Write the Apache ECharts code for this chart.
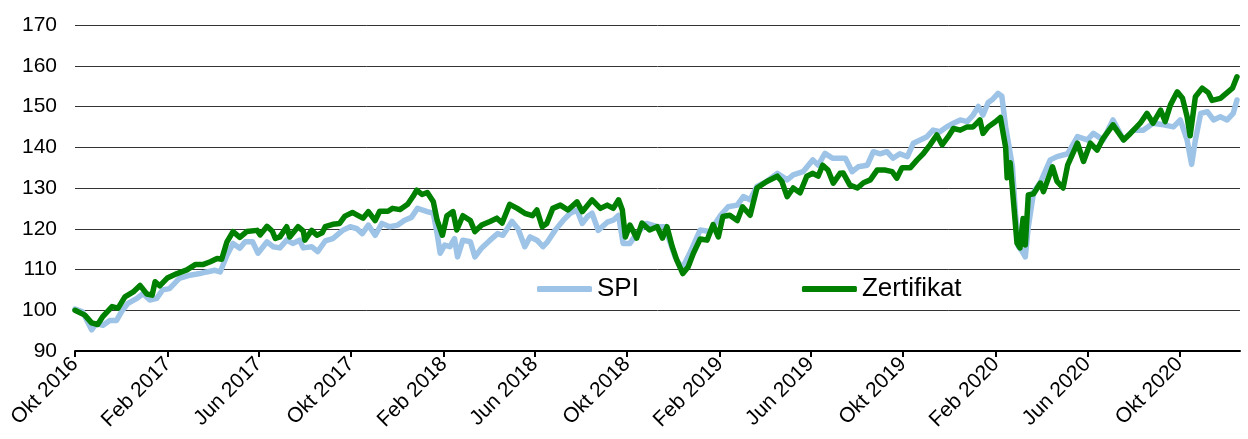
<!DOCTYPE html>
<html lang="de">
<head>
    <meta charset="UTF-8">
    <title>SPI vs Zertifikat</title>
    <style>
        html, body {
            margin: 0;
            padding: 0;
            background: #fff;
        }
        #chart {
            width: 1248px;
            height: 439px;
        }
    </style>
    <script src="https://cdn.jsdelivr.net/npm/echarts@6/dist/echarts.min.js"></script>
</head>
<body>
    <div id="chart"></div>
    <script>
        // Achsenbeschriftung (alle 4 Monate)
        const tickDates = ['2016-10-01', '2017-02-01', '2017-06-01', '2017-10-01', '2018-02-01', '2018-06-01',
            '2018-10-01', '2019-02-01', '2019-06-01', '2019-10-01', '2020-02-01', '2020-06-01', '2020-10-01'];
        const tickLabels = ['Okt 2016', 'Feb 2017', 'Jun 2017', 'Okt 2017', 'Feb 2018', 'Jun 2018',
            'Okt 2018', 'Feb 2019', 'Jun 2019', 'Okt 2019', 'Feb 2020', 'Jun 2020', 'Okt 2020'];

        // SPI
        const spiDates = ['2016-10-01', '2016-10-11', '2016-10-23', '2016-10-29', '2016-11-07', '2016-11-16', '2016-11-25',
            '2016-12-02', '2016-12-10', '2016-12-22', '2016-12-30', '2017-01-08', '2017-01-17', '2017-01-25', '2017-02-03',
            '2017-02-16', '2017-03-02', '2017-03-15', '2017-03-24', '2017-04-04', '2017-04-11', '2017-04-20', '2017-04-28',
            '2017-05-07', '2017-05-14', '2017-05-24', '2017-05-31', '2017-06-12', '2017-06-20', '2017-06-29', '2017-07-08',
            '2017-07-16', '2017-07-25', '2017-07-30', '2017-08-10', '2017-08-18', '2017-08-28', '2017-09-07', '2017-09-20',
            '2017-09-30', '2017-10-09', '2017-10-16', '2017-10-24', '2017-11-02', '2017-11-11', '2017-11-21', '2017-12-02',
            '2017-12-11', '2017-12-20', '2017-12-28', '2018-01-10', '2018-01-18', '2018-01-23', '2018-01-27', '2018-02-02',
            '2018-02-09', '2018-02-15', '2018-02-19', '2018-02-26', '2018-03-08', '2018-03-14', '2018-03-23', '2018-04-03',
            '2018-04-13', '2018-04-20', '2018-05-02', '2018-05-10', '2018-05-19', '2018-05-26', '2018-06-04', '2018-06-12',
            '2018-06-18', '2018-06-28', '2018-07-09', '2018-07-18', '2018-07-27', '2018-08-03', '2018-08-10', '2018-08-16',
            '2018-08-24', '2018-09-05', '2018-09-13', '2018-09-20', '2018-09-26', '2018-10-05', '2018-10-14', '2018-10-27',
            '2018-11-10', '2018-11-20', '2018-12-04', '2018-12-13', '2018-12-23', '2019-01-06', '2019-01-19', '2019-02-02',
            '2019-02-12', '2019-02-24', '2019-03-04', '2019-03-13', '2019-03-22', '2019-04-04', '2019-04-18', '2019-05-01',
            '2019-05-09', '2019-05-22', '2019-06-04', '2019-06-11', '2019-06-20', '2019-06-30', '2019-07-06', '2019-07-17',
            '2019-07-26', '2019-08-03', '2019-08-15', '2019-08-23', '2019-09-01', '2019-09-10', '2019-09-18', '2019-09-27',
            '2019-10-07', '2019-10-15', '2019-10-24', '2019-11-02', '2019-11-10', '2019-11-19', '2019-11-28', '2019-12-07',
            '2019-12-16', '2019-12-25', '2020-01-02', '2020-01-09', '2020-01-15', '2020-01-22', '2020-01-28', '2020-02-04',
            '2020-02-09', '2020-02-14', '2020-02-17', '2020-02-23', '2020-02-27', '2020-03-02', '2020-03-07', '2020-03-11',
            '2020-03-15', '2020-03-22', '2020-03-31', '2020-04-13', '2020-04-22', '2020-05-06', '2020-05-19', '2020-06-01',
            '2020-06-09', '2020-06-22', '2020-07-05', '2020-07-19', '2020-08-01', '2020-08-14', '2020-08-27', '2020-09-10',
            '2020-09-23', '2020-10-02', '2020-10-11', '2020-10-17', '2020-10-22', '2020-10-29', '2020-11-07', '2020-11-15',
            '2020-11-24', '2020-12-03', '2020-12-11', '2020-12-16'];
        const spiValues = [100.3, 99.6, 95.2, 96.7, 96.3, 97.5, 97.5,
            99.8, 101.7, 102.9, 104.1, 102.5, 102.9, 105, 105.3,
            107.8, 108.6, 109, 109.4, 109.8, 109.4, 113.5, 116.4,
            115.2, 116.8, 116.8, 114, 116.8, 115.6, 115.3, 117.2,
            116.4, 117.2, 115.3, 115.6, 114.4, 117, 117.6, 119.6,
            120.5, 120, 118.8, 120.9, 118.4, 121.3, 120.5, 120.9,
            122.1, 122.8, 125, 124.2, 123.8, 118.8, 114, 116,
            115.6, 117.6, 113.1, 117.2, 116.8, 113.1, 115.3, 117.2,
            118.8, 118.4, 121.8, 120, 115.6, 118, 117.2, 115.6,
            116.8, 119.6, 122.1, 123.8, 124.6, 121.3, 123, 123.8,
            119.6, 121.6, 122.1, 123.3, 116.4, 116.4, 118.8, 121.3,
            120.5, 120.5, 113, 110.2, 113.9, 119.7, 119.3, 123.3,
            125.4, 125.8, 127.9, 127.1, 130.4, 131.6, 133.6, 132,
            133.2, 134, 136.9, 135.6, 138.5, 137.3, 137.3, 137.3,
            134, 135.2, 135.6, 138.9, 138.4, 138.9, 137.3, 138.4,
            137.7, 141, 141.8, 142.6, 144.2, 143.8, 145, 145.9,
            146.7, 146.3, 147.9, 150, 147.9, 151, 151.8, 153.2,
            152.5, 145, 141.8, 135.2, 123.8, 115.6, 114.4, 113.1,
            120.5, 129, 131.4, 136.9, 137.7, 138.4, 142.6, 141.8,
            143.4, 141.8, 146.7, 141.8, 144.2, 144.2, 145.9, 145.5,
            145, 146.7, 141.8, 135.8, 141.8, 148.3, 148.7, 146.7,
            147.5, 146.7, 148.3, 151.6];

        // Zertifikat
        const zertDates = ['2016-10-01', '2016-10-14', '2016-10-23', '2016-10-31', '2016-11-07', '2016-11-19', '2016-11-27',
            '2016-12-06', '2016-12-17', '2016-12-26', '2017-01-04', '2017-01-11', '2017-01-15', '2017-01-21', '2017-01-31',
            '2017-02-13', '2017-02-26', '2017-03-09', '2017-03-19', '2017-03-29', '2017-04-07', '2017-04-13', '2017-04-20',
            '2017-04-28', '2017-05-07', '2017-05-16', '2017-05-30', '2017-06-03', '2017-06-12', '2017-06-19', '2017-06-23',
            '2017-06-29', '2017-07-08', '2017-07-12', '2017-07-23', '2017-07-30', '2017-08-01', '2017-08-10', '2017-08-17',
            '2017-08-24', '2017-08-28', '2017-09-07', '2017-09-16', '2017-09-23', '2017-10-03', '2017-10-10', '2017-10-17',
            '2017-10-24', '2017-11-02', '2017-11-08', '2017-11-19', '2017-11-25', '2017-12-05', '2017-12-15', '2017-12-22',
            '2017-12-27', '2018-01-03', '2018-01-10', '2018-01-18', '2018-01-23', '2018-01-30', '2018-02-05', '2018-02-13',
            '2018-02-18', '2018-02-26', '2018-03-08', '2018-03-14', '2018-03-23', '2018-04-03', '2018-04-12', '2018-04-19',
            '2018-04-29', '2018-05-09', '2018-05-19', '2018-05-29', '2018-06-04', '2018-06-11', '2018-06-17', '2018-06-25',
            '2018-07-05', '2018-07-15', '2018-07-27', '2018-08-03', '2018-08-16', '2018-08-27', '2018-09-05', '2018-09-13',
            '2018-09-20', '2018-09-25', '2018-09-29', '2018-10-05', '2018-10-14', '2018-10-21', '2018-10-31', '2018-11-10',
            '2018-11-17', '2018-11-23', '2018-11-30', '2018-12-06', '2018-12-14', '2018-12-21', '2018-12-28', '2019-01-06',
            '2019-01-15', '2019-01-23', '2019-01-30', '2019-02-05', '2019-02-14', '2019-02-24', '2019-03-03', '2019-03-13',
            '2019-03-22', '2019-04-04', '2019-04-18', '2019-04-24', '2019-05-01', '2019-05-09', '2019-05-18', '2019-05-27',
            '2019-06-04', '2019-06-11', '2019-06-17', '2019-06-24', '2019-07-01', '2019-07-10', '2019-07-14', '2019-07-23',
            '2019-08-02', '2019-08-10', '2019-08-19', '2019-08-28', '2019-09-08', '2019-09-17', '2019-09-23', '2019-09-30',
            '2019-10-11', '2019-10-20', '2019-10-28', '2019-11-06', '2019-11-15', '2019-11-22', '2019-11-30', '2019-12-07',
            '2019-12-16', '2019-12-25', '2020-01-02', '2020-01-11', '2020-01-15', '2020-01-22', '2020-01-31', '2020-02-07',
            '2020-02-14', '2020-02-16', '2020-02-20', '2020-02-24', '2020-02-29', '2020-03-04', '2020-03-08', '2020-03-11',
            '2020-03-15', '2020-03-22', '2020-03-31', '2020-04-04', '2020-04-16', '2020-04-22', '2020-04-30', '2020-05-06',
            '2020-05-19', '2020-05-27', '2020-06-05', '2020-06-14', '2020-06-22', '2020-07-05', '2020-07-19', '2020-07-28',
            '2020-08-10', '2020-08-19', '2020-08-27', '2020-09-06', '2020-09-12', '2020-09-19', '2020-09-28', '2020-10-05',
            '2020-10-11', '2020-10-15', '2020-10-22', '2020-10-31', '2020-11-08', '2020-11-13', '2020-11-24', '2020-12-03',
            '2020-12-10', '2020-12-16'];
        const zertValues = [100, 98.8, 96.9, 96.5, 98.5, 100.9, 100.5,
            103.3, 104.5, 106.1, 104, 103.7, 107, 106, 107.9,
            109, 109.9, 111.2, 111.2, 111.9, 112.7, 112.5, 116.8,
            119.3, 117.9, 119.3, 119.6, 118.5, 120.6, 119.4, 117.6,
            118, 120.5, 118, 120.5, 119.4, 117.2, 119.6, 118.4,
            119, 120.5, 121.1, 121.3, 123.1, 124, 123.3, 122.6,
            124.2, 122, 124.3, 124.3, 125, 124.7, 126, 127.9,
            129.5, 128.4, 128.9, 126.6, 122.1, 118.4, 123.2, 124.2,
            119.7, 123.2, 122, 119.3, 120.9, 121.8, 122.6, 121.4,
            126, 125, 123.8, 123.2, 124.6, 120.5, 121.3, 125,
            125.8, 124.6, 126.6, 124.2, 127.1, 125, 125.8, 125,
            127.1, 124.6, 118, 120.9, 117.7, 121.4, 119.7, 120.5,
            117.7, 120.5, 115.6, 112.3, 109, 110.6, 114, 117.5,
            117.2, 121, 118, 123, 123.3, 122, 125.4, 123.3,
            130, 131.6, 132.9, 131.6, 127.9, 130, 128.8, 132.9,
            133.6, 132.9, 135.6, 134.4, 131.2, 133.6, 133.7, 130.7,
            130, 131.3, 132, 134.4, 134.4, 134, 132.4, 135,
            135, 136.9, 138.4, 140.6, 143, 140.6, 142.6, 144.6,
            144.2, 145, 145, 146.7, 143.4, 145, 146.2, 147.3,
            140, 132.5, 136.2, 127.5, 116.5, 115.3, 122.5, 116,
            128.3, 128.6, 131.2, 129.1, 135.2, 131.6, 130, 135.6,
            141, 136.5, 141, 139.3, 142.2, 145.5, 141.8, 143.4,
            145.9, 148.3, 145.9, 149.1, 146.3, 150.4, 153.6, 152,
            147.5, 142.8, 152.4, 154.5, 153.4, 151.5, 152, 153.4,
            154.5, 157.3];

        function toTime(s) {
            return new Date(s + 'T00:00:00').getTime();
        }

        const tickTimes = tickDates.map(toTime);
        const spiData = spiDates.map((d, i) => [toTime(d), spiValues[i]]);
        const zertData = zertDates.map((d, i) => [toTime(d), zertValues[i]]);

        const chart = echarts.init(document.getElementById('chart'));
        chart.setOption({
            animation: false,
            grid: {
                left: 75,
                right: 8,
                top: 25,
                bottom: 88,
                outerBoundsMode: 'none'
            },
            legend: {
                left: 537,
                top: 276,
                padding: 0,
                itemGap: 163,
                itemWidth: 55,
                itemHeight: 6,
                icon: 'roundRect',
                textStyle: {
                    fontFamily: 'Liberation Sans, Arial, sans-serif',
                    fontSize: 26,
                    color: '#000'
                },
                data: ['SPI', 'Zertifikat']
            },
            xAxis: {
                type: 'value',
                min: toTime('2016-10-01'),
                max: toTime('2020-12-20'),
                axisLine: {
                    onZero: false,
                    lineStyle: { color: '#000', width: 2 }
                },
                axisTick: {
                    show: true,
                    length: 6,
                    lineStyle: { color: '#000', width: 2 },
                    customValues: tickTimes
                },
                axisLabel: {
                    customValues: tickTimes,
                    rotate: 45,
                    margin: 10,
                    fontFamily: 'Liberation Sans, Arial, sans-serif',
                    fontSize: 21,
                    color: '#000',
                    formatter: function (val) {
                        const i = tickTimes.indexOf(val);
                        return i >= 0 ? tickLabels[i] : '';
                    }
                },
                splitLine: { show: false }
            },
            yAxis: {
                type: 'value',
                min: 90,
                max: 170,
                interval: 10,
                axisLine: { show: false },
                axisTick: { show: false },
                axisLabel: {
                    margin: 18,
                    fontFamily: 'Liberation Sans, Arial, sans-serif',
                    fontSize: 21,
                    color: '#000'
                },
                splitLine: {
                    lineStyle: { color: '#333', width: 1 }
                }
            },
            series: [
                {
                    name: 'SPI',
                    type: 'line',
                    data: spiData,
                    symbol: 'none',
                    color: '#9dc3e6',
                    lineStyle: { width: 5.5, color: '#9dc3e6', cap: 'round', join: 'round' }
                },
                {
                    name: 'Zertifikat',
                    type: 'line',
                    data: zertData,
                    symbol: 'none',
                    color: '#008000',
                    lineStyle: { width: 5.5, color: '#008000', cap: 'round', join: 'round' }
                }
            ]
        });
    </script>
</body>
</html>
